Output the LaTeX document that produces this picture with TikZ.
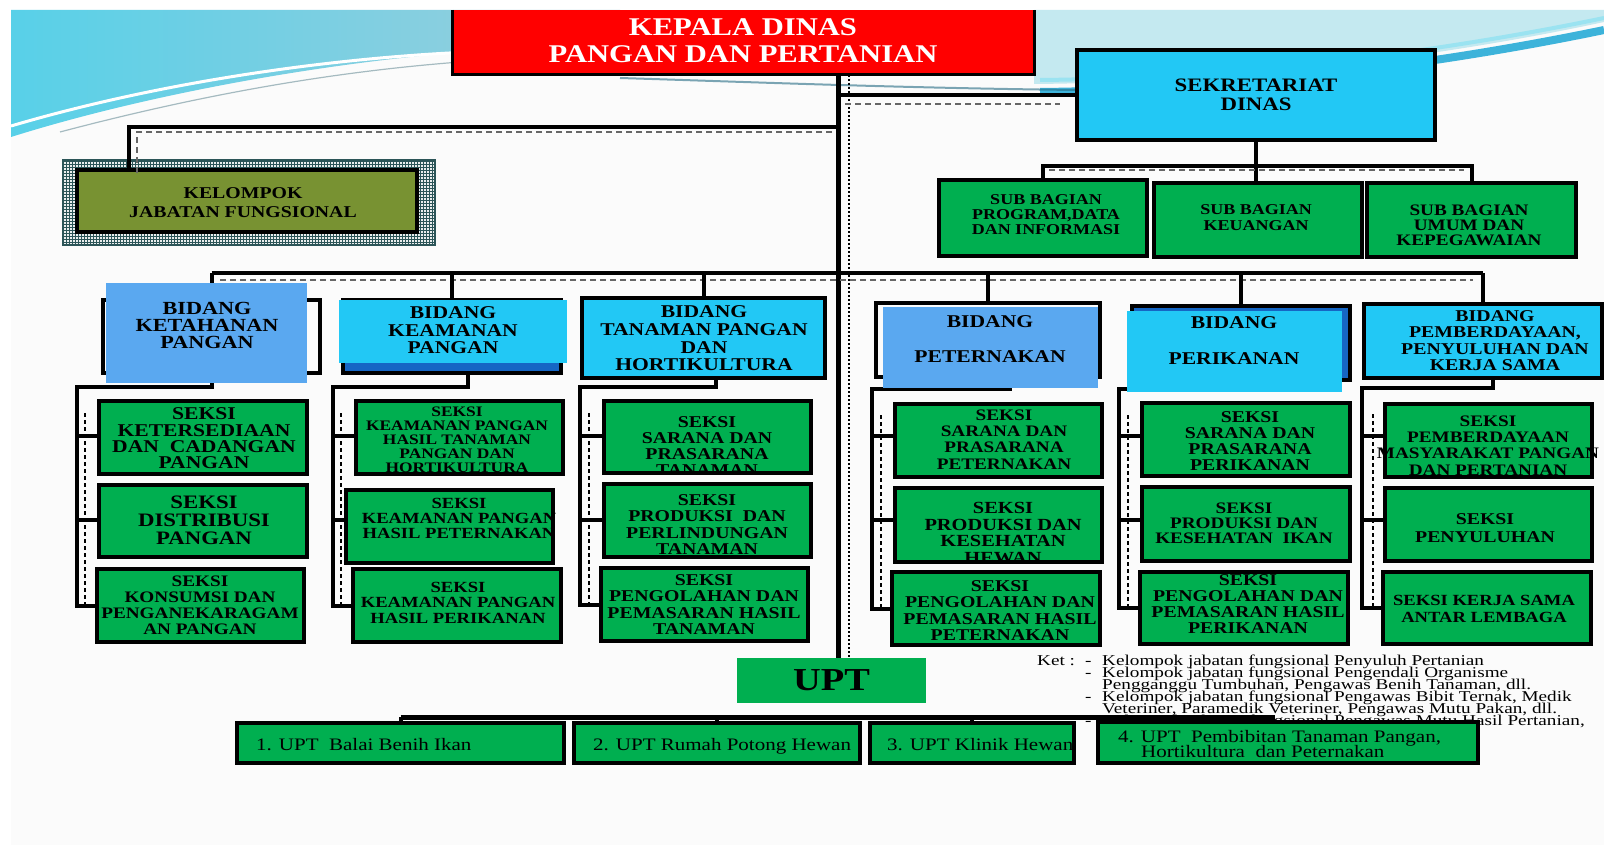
\documentclass[tikz,border=0pt]{standalone}
\usepackage{fontspec}
\setmainfont{Liberation Serif}[FakeStretch=1.2]
\newfontfamily\legfont{Liberation Serif}[FakeStretch=1.28]
\usetikzlibrary{patterns}
\definecolor{kred}{HTML}{FF0000}
\definecolor{kcyan}{HTML}{22C8F5}
\definecolor{kblue}{HTML}{5AA8F0}
\definecolor{kdblue}{HTML}{1666C4}
\definecolor{kgreen}{HTML}{00AF50}
\definecolor{kolive}{HTML}{789232}
\definecolor{kframe}{HTML}{2C5558}
\definecolor{sw1}{HTML}{58D0E8}
\definecolor{sw2}{HTML}{9CCEDC}
\definecolor{sw3}{HTML}{C4E9F0}
\definecolor{sw4}{HTML}{3DB3DA}
\definecolor{slide}{HTML}{FBFBFB}
\pgfdeclarelayer{back}
\pgfdeclarelayer{wires}
\pgfsetlayers{back,wires,main}
\newcommand\fsz[2]{\fontsize{#1}{#2}\selectfont}
\newcommand\bx[6]{%
  \pgfmathsetmacro\bxw{#4-#2}\pgfmathsetmacro\bxh{#5-#3}%
  \node[#6, minimum width=\bxw pt, minimum height=\bxh pt, inner sep=0pt, outer sep=0pt, anchor=north west] (#1) at (#2,#3) {};}
\begin{document}
\begin{tikzpicture}[x=1pt,y=-1pt,
  conn/.style={line width=4pt, black},
  dashln/.style={line width=1.1pt, dash pattern=on 6pt off 4pt, black!60},
  dotln/.style={line width=1.2pt, dash pattern=on 2pt off 2pt, black},
  gbox/.style={fill=kgreen, draw=black, line width=4pt},
  lbl/.style={align=center, inner sep=0pt},
  leg/.style={anchor=base west, inner sep=0pt, font=\legfont\fsz{15}{12}}]
\useasboundingbox (0,0) rectangle (1604,845);

% ---------------- background ----------------
\begin{pgfonlayer}{back}
\fill[white] (0,0) rectangle (1604,845);
\fill[slide] (11,10) rectangle (1604,845);
\shade[left color=sw1, right color=sw2] (11,10) -- (620,10) -- (620,45) .. controls (400,45) and (160,90) .. (11,137) -- cycle;
\draw[white, line width=3pt] (11,126) .. controls (160,82) and (330,58) .. (470,52);
\draw[sw2!70!black, line width=1.2pt, opacity=0.6] (60,132) .. controls (200,95) and (330,72) .. (460,62);
\fill[sw3] (1034,10) -- (1604,10) -- (1604,22) .. controls (1450,55) and (1250,82) .. (1034,84) -- cycle;
\draw[sw4, line width=8pt] (1040,92) .. controls (1250,90) and (1450,62) .. (1604,30);
\draw[sw1!60, line width=4pt] (1040,80) .. controls (1250,78) and (1450,50) .. (1604,18);
\draw[sw4!60!black, line width=2pt, opacity=0.6] (620,78) .. controls (750,82) and (900,88) .. (1077,90);
% legend
\node[leg] (ket) at (1037,665) {Ket :};
\node[leg] (dsh1) at (1085,665) {-};
\node[leg] (dsh2) at (1085,677) {-};
\node[leg] (dsh3) at (1085,701) {-};
\node[leg] (dsh4) at (1085,725) {-};
\node[leg] (lg1) at (1102,665) {Kelompok jabatan fungsional Penyuluh Pertanian};
\node[leg] (lg2) at (1102,677) {Kelompok jabatan fungsional Pengendali Organisme};
\node[leg] (lg3) at (1102,689) {Pengganggu Tumbuhan, Pengawas Benih Tanaman, dll.};
\node[leg] (lg4) at (1102,701) {Kelompok jabatan fungsional Pengawas Bibit Ternak, Medik};
\node[leg] (lg5) at (1102,713) {Veteriner, Paramedik Veteriner, Pengawas Mutu Pakan, dll.};
\node[leg] (lg6) at (1102,725) {Kelompok jabatan fungsional Pengawas Mutu Hasil Pertanian,};
\end{pgfonlayer}

% ---------------- boxes ----------------
\bx{kepala}{452}{10}{1034}{75}{fill=kred}
\draw[line width=3pt] (kepala.north west) |- (kepala.south east) -- (kepala.north east);
\bx{sek}{1077}{50}{1435}{140}{fill=kcyan, draw=black, line width=4pt}
\bx{subP}{939}{180}{1147}{256}{gbox}
\bx{subK}{1154}{183}{1362}{257}{gbox}
\bx{subU}{1367}{183}{1576}{257}{gbox}

\bx{kelout}{63}{160}{435}{245}{fill=kframe!10, draw=kframe, line width=2pt}
\fill[pattern=grid, pattern color=kframe] (kelout.north west) rectangle (kelout.south east);
\bx{kelin}{77}{170}{417}{232}{fill=kolive, draw=black, line width=4pt}

\bx{bKetO}{103}{300}{320}{373}{draw=black, line width=4pt}
\bx{bKet}{106}{283}{307}{383}{fill=kblue}
\bx{bKamB}{343}{300}{561}{373}{fill=kdblue, draw=black, line width=4pt}
\bx{bKam}{339}{300}{567}{363}{fill=kcyan}
\bx{bTan}{582}{298}{825}{378}{fill=kcyan, draw=black, line width=4pt}
\bx{bPetO}{876}{303}{1100}{377}{draw=black, line width=4pt}
\bx{bPet}{883}{307}{1098}{388}{fill=kblue}
\bx{bPerB}{1132}{306}{1350}{380}{fill=kdblue, draw=black, line width=4pt}
\bx{bPer}{1127}{311}{1342}{392}{fill=kcyan}
\bx{bPem}{1364}{304}{1602}{378}{fill=kcyan, draw=black, line width=4pt}

\bx{k1}{99}{401}{307}{474}{gbox}
\bx{k2}{99}{485}{307}{557}{gbox}
\bx{k3}{97}{569}{304}{642}{gbox}
\bx{m1}{356}{401}{563}{474}{gbox}
\bx{m2}{346}{490}{553}{563}{gbox}
\bx{m3}{353}{569}{561}{642}{gbox}
\bx{t1}{604}{401}{811}{473}{gbox}
\bx{t2}{604}{484}{811}{557}{gbox}
\bx{t3}{601}{568}{808}{641}{gbox}
\bx{p1}{895}{404}{1102}{477}{gbox}
\bx{p2}{895}{488}{1102}{562}{gbox}
\bx{p3}{892}{572}{1100}{645}{gbox}
\bx{f1}{1142}{403}{1350}{476}{gbox}
\bx{f2}{1142}{487}{1350}{561}{gbox}
\bx{f3}{1140}{572}{1348}{644}{gbox}
\bx{e1}{1385}{404}{1592}{477}{gbox}
\bx{e2}{1385}{488}{1592}{561}{gbox}
\bx{e3}{1383}{572}{1591}{644}{gbox}

\bx{upt}{737}{658}{926}{703}{fill=kgreen}
\bx{u1}{237}{723}{564}{763}{gbox}
\bx{u2}{574}{723}{860}{763}{gbox}
\bx{u3}{870}{723}{1074}{763}{gbox}
\bx{u4}{1098}{722}{1478}{763}{gbox}

% ---------------- texts ----------------
\node[lbl, text=white, font=\bfseries\fsz{25.5}{27}] (tKep) at (743,41) {KEPALA DINAS\\PANGAN DAN PERTANIAN};
\node[lbl, font=\bfseries\fsz{19}{19}] (tSek) at (1256,94.5) {SEKRETARIAT\\DINAS};
\node[lbl, font=\bfseries\fsz{15}{15}] (tSubP) at (1046,215) {SUB BAGIAN\\PROGRAM,DATA\\DAN INFORMASI};
\node[lbl, font=\bfseries\fsz{15}{16}] (tSubK) at (1256,218) {SUB BAGIAN\\KEUANGAN};
\node[lbl, font=\bfseries\fsz{16}{15}] (tSubU) at (1469,225) {SUB BAGIAN\\UMUM DAN\\KEPEGAWAIAN};
\node[lbl, font=\bfseries\fsz{16.5}{19}] (tKel) at (243,202.5) {KELOMPOK\\JABATAN FUNGSIONAL};

\node[lbl, font=\bfseries\fsz{18.5}{17}] (tKet) at (207,325) {BIDANG\\KETAHANAN\\PANGAN};
\node[lbl, font=\bfseries\fsz{18}{17.5}] (tKam) at (453,330.5) {BIDANG\\KEAMANAN\\PANGAN};
\node[lbl, font=\bfseries\fsz{18}{17.7}] (tTan) at (704,338.5) {BIDANG\\TANAMAN PANGAN\\DAN\\HORTIKULTURA};
\node[lbl, font=\bfseries\fsz{18}{17.5}] (tPet) at (990,339.5) {BIDANG\\[17.5pt]PETERNAKAN};
\node[lbl, font=\bfseries\fsz{18}{18}] (tPer) at (1234,341) {BIDANG\\[18pt]PERIKANAN};
\node[lbl, font=\bfseries\fsz{16.5}{16.3}] (tPem) at (1495,340.5) {BIDANG\\PEMBERDAYAAN,\\PENYULUHAN DAN\\KERJA SAMA};

\node[lbl, font=\bfseries\fsz{18}{16.3}] (tk1) at (204,438.5) {SEKSI\\KETERSEDIAAN\\DAN\ \ CADANGAN\\PANGAN};
\node[lbl, font=\bfseries\fsz{19}{18}] (tk2) at (204,520) {SEKSI\\DISTRIBUSI\\PANGAN};
\node[lbl, font=\bfseries\fsz{16}{16}] (tk3) at (200,605) {SEKSI\\KONSUMSI DAN\\PENGANEKARAGAM\\AN PANGAN};
\node[lbl, font=\bfseries\fsz{14.5}{14}] (tm1) at (457,440) {SEKSI\\KEAMANAN PANGAN\\HASIL TANAMAN\\PANGAN DAN\\HORTIKULTURA};
\node[lbl, font=\bfseries\fsz{15.5}{15}] (tm2) at (459,518) {SEKSI\\KEAMANAN PANGAN\\HASIL PETERNAKAN};
\node[lbl, font=\bfseries\fsz{15.5}{15.5}] (tm3) at (458,602.5) {SEKSI\\KEAMANAN PANGAN\\HASIL PERIKANAN};
\node[lbl, font=\bfseries\fsz{16.5}{16}] (tt1) at (707,446) {SEKSI\\SARANA DAN\\PRASARANA\\TANAMAN};
\node[lbl, font=\bfseries\fsz{16.5}{16.3}] (tt2) at (707,524.5) {SEKSI\\PRODUKSI\ \ DAN\\PERLINDUNGAN\\TANAMAN};
\node[lbl, font=\bfseries\fsz{16.5}{16.3}] (tt3) at (704,604.5) {SEKSI\\PENGOLAHAN DAN\\PEMASARAN HASIL\\TANAMAN};
\node[lbl, font=\bfseries\fsz{16}{16.3}] (tp1) at (1004,439.5) {SEKSI\\SARANA DAN\\PRASARANA\\PETERNAKAN};
\node[lbl, font=\bfseries\fsz{17}{16.7}] (tp2) at (1003,533) {SEKSI\\PRODUKSI DAN\\KESEHATAN\\HEWAN};
\node[lbl, font=\bfseries\fsz{16.5}{16.3}] (tp3) at (1000,610.5) {SEKSI\\PENGOLAHAN DAN\\PEMASARAN HASIL\\PETERNAKAN};
\node[lbl, font=\bfseries\fsz{16.5}{16}] (tf1) at (1250,441) {SEKSI\\SARANA DAN\\PRASARANA\\PERIKANAN};
\node[lbl, font=\bfseries\fsz{16}{15}] (tf2) at (1244,523) {SEKSI\\PRODUKSI DAN\\KESEHATAN\ \ IKAN};
\node[lbl, font=\bfseries\fsz{16.5}{16}] (tf3) at (1248,604) {SEKSI\\PENGOLAHAN DAN\\PEMASARAN HASIL\\PERIKANAN};
\node[lbl, font=\bfseries\fsz{16}{16.3}] (te1) at (1488,445.5) {SEKSI\\PEMBERDAYAAN\\MASYARAKAT PANGAN\\DAN PERTANIAN};
\node[lbl, font=\bfseries\fsz{16.5}{18}] (te2) at (1485,528) {SEKSI\\PENYULUHAN};
\node[lbl, font=\bfseries\fsz{15.5}{17}] (te3) at (1484,608.5) {SEKSI KERJA SAMA\\ANTAR LEMBAGA};

\node[lbl, font=\bfseries\fsz{32}{32}] (tUpt) at (upt.center) {UPT};
\node[anchor=base west, inner sep=0pt, font=\fsz{17.5}{18}] (tu1) at (256,750) {1. UPT\ \ Balai Benih Ikan};
\node[anchor=base west, inner sep=0pt, font=\fsz{17.5}{18}] (tu2) at (593,750) {2. UPT Rumah Potong Hewan};
\node[anchor=base west, inner sep=0pt, font=\fsz{17.5}{18}] (tu3) at (887,750) {3. UPT Klinik Hewan};
\node[anchor=base west, inner sep=0pt, font=\fsz{17.5}{18}] (tu4a) at (1118,742.5) {4. UPT\ \ Pembibitan Tanaman Pangan,};
\node[anchor=base west, inner sep=0pt, font=\fsz{17.5}{18}] (tu4b) at (1141,757.5) {Hortikultura\ \ dan Peternakan};

% ---------------- coordinates ----------------
\coordinate (mx) at (838,0);
\coordinate (dx) at (849,0);
\coordinate (jl) at (838,127);
\coordinate (lx) at (129,127);
\coordinate (jr) at (838,95);
\coordinate (hs1) at (1043,166);
\coordinate (hs2) at (1472,166);
\coordinate (bl) at (0,273);
\coordinate (c1) at (77,387);
\coordinate (c2) at (333,387);
\coordinate (c3) at (580,387);
\coordinate (c4) at (872,389);
\coordinate (c5) at (1119,389);
\coordinate (c6) at (1362,388);
\coordinate (r1) at (0,436);
\coordinate (r2) at (0,520);
\coordinate (ul) at (0,717);
\coordinate (u4t) at ([xshift=-16pt]u4.north);
\coordinate (dl1) at (832,132);
\coordinate (dl2) at (137,132);
\coordinate (dl3) at (137,176);
\coordinate (dr1) at (845,104);
\coordinate (dr2) at (1060,104);
\coordinate (ds1) at (1049,170);
\coordinate (ds2) at (1464,170);
\coordinate (db1) at (220,280);
\coordinate (db2) at (1473,280);

% connectors that lie over the Kelompok frame
\draw[conn] (jl) -- (lx) -- (kelin.north -| lx);
\draw[dashln] (dl1) -- (dl2) -- (dl3);

% ---------------- connectors ----------------
\begin{pgfonlayer}{wires}
\draw[conn, line width=5pt] (kepala.south -| mx) -- (upt.north -| mx);
\draw[dotln] (kepala.south -| dx) -- (upt.north -| dx);
\draw[conn] (jr) -- (jr -| sek.west);
\draw[dashln] (dr1) -- (dr2);
\draw[conn] (sek.south) -- (sek.south |- subK.north);
\draw[conn] (subP.north -| hs1) |- (hs2) -- (subU.north -| hs2);
\draw[dashln] (ds1) -- (ds2);

\draw[conn] (bKetO.north |- bl) -- (bPem.north |- bl);
\draw[dashln] (db1) -- (db2);
\foreach \n in {bKetO,bKamB,bTan,bPetO,bPerB,bPem}
  \draw[conn] (\n.north |- bl) -- (\n.north);

\draw[conn] (bKetO.south) |- (c1) |- (k3.west);
\draw[conn] (c1 |- r1) -- (k1.west |- r1);
\draw[conn] (c1 |- r2) -- (k2.west |- r2);
\draw[dotln, dash pattern=on 4pt off 3pt] ([xshift=8pt,yshift=-26pt]c1) -- ([xshift=8pt]c1 |- k3.west);

\draw[conn] ([xshift=16pt]bKamB.south) |- (c2) |- (m3.west);
\draw[conn] (c2 |- r1) -- (m1.west |- r1);
\draw[conn] (c2 |- r2) -- (m2.west |- r2);
\draw[dotln, dash pattern=on 4pt off 3pt] ([xshift=8pt,yshift=-26pt]c2) -- ([xshift=8pt]c2 |- m3.west);

\draw[conn] ([xshift=12pt]bTan.south) |- (c3) |- (t3.west);
\draw[conn] (c3 |- r1) -- (t1.west |- r1);
\draw[conn] (c3 |- r2) -- (t2.west |- r2);
\draw[dotln, dash pattern=on 4pt off 3pt] ([xshift=9pt,yshift=-26pt]c3) -- ([xshift=9pt]c3 |- t3.west);

\draw[conn] ([xshift=19pt]bPet.south) |- (c4) |- (p3.west);
\draw[conn] (c4 |- r1) -- (p1.west |- r1);
\draw[conn] (c4 |- r2) -- (p2.west |- r2);
\draw[dotln, dash pattern=on 4pt off 3pt] ([xshift=9pt,yshift=-26pt]c4) -- ([xshift=9pt]c4 |- p3.west);

\draw[conn] (bPerB.south) |- (c5) |- (f3.west);
\draw[conn] (c5 |- r1) -- (f1.west |- r1);
\draw[conn] (c5 |- r2) -- (f2.west |- r2);
\draw[dotln, dash pattern=on 4pt off 3pt] ([xshift=9pt,yshift=-26pt]c5) -- ([xshift=9pt]c5 |- f3.west);

\draw[conn] ([xshift=10pt]bPem.south) |- (c6) |- (e3.west);
\draw[conn] (c6 |- r1) -- (e1.west |- r1);
\draw[conn] (c6 |- r2) -- (e2.west |- r2);
\draw[dotln, dash pattern=on 4pt off 3pt] ([xshift=11pt,yshift=-26pt]c6) -- ([xshift=11pt]c6 |- e3.west);

\draw[conn, line width=5pt] (u1.north |- ul) -- (u4t |- ul) -- (u4t);
\draw[conn] (u1.north |- ul) -- (u1.north);
\draw[conn] (u2.north |- ul) -- (u2.north);
\draw[conn] (u3.north |- ul) -- (u3.north);
\end{pgfonlayer}
\end{tikzpicture}
\end{document}
